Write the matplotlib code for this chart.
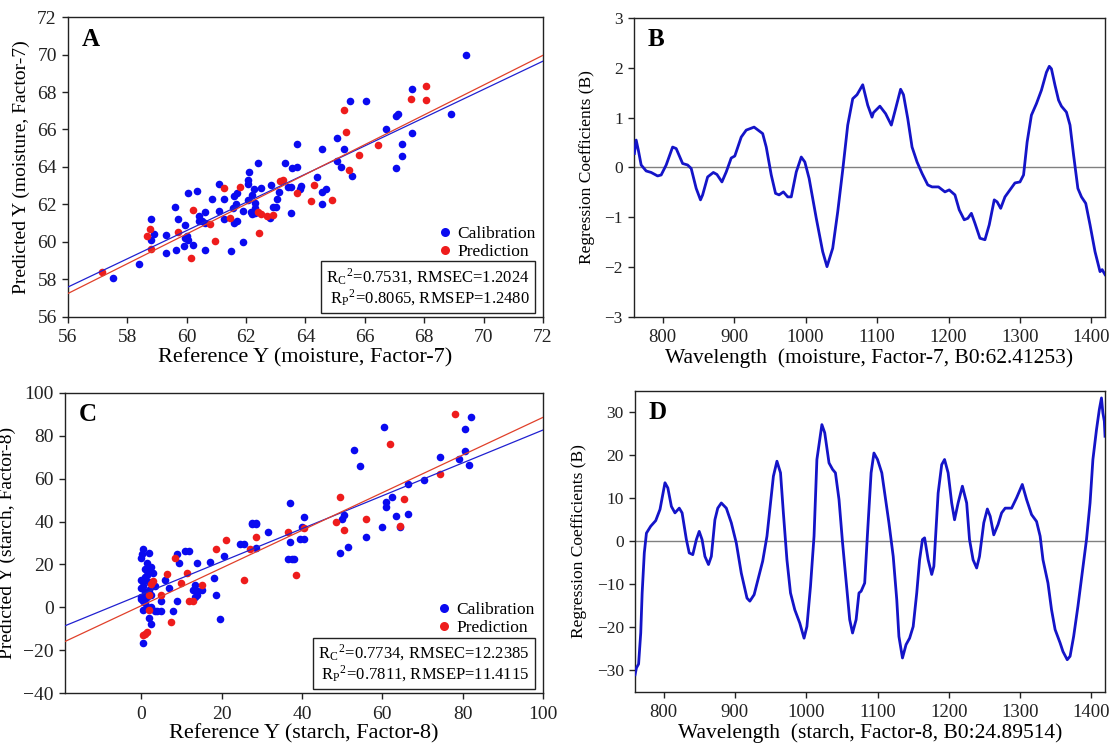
"""
PLS regression results: predicted vs reference and regression coefficients
"""
import numpy as np
import matplotlib.pyplot as plt
from matplotlib.lines import Line2D

plt.rcParams['font.family'] = ['Liberation Serif', 'DejaVu Serif']
plt.rcParams['mathtext.fontset'] = 'stix'


# DATA

# moisture: (reference, predicted)
moist_cal = np.array([
    [69.4, 70.0], [67.6, 68.15], [65.5, 67.5], [66.05, 67.5], [68.9, 66.85],
    [67.05, 66.7], [67.1, 66.8], [66.7, 66.0], [67.6, 65.8], [65.05, 65.55],
    [67.25, 65.25], [63.7, 65.25], [64.55, 64.95], [65.3, 64.95], [67.25, 64.6],
    [65.05, 64.3], [63.3, 64.2], [62.4, 64.2], [63.7, 64.0], [63.55, 63.95],
    [65.2, 64.0], [67.05, 63.95], [65.55, 63.5], [64.4, 63.45], [62.1, 63.75],
    [61.1, 63.1], [62.05, 63.3], [62.05, 63.1], [62.85, 63.05], [63.85, 63.0],
    [63.5, 62.95], [63.4, 62.95], [62.5, 62.9], [62.25, 62.8], [63.8, 62.8],
    [64.7, 62.8], [64.55, 62.65], [60.35, 62.7], [60.05, 62.6], [61.7, 62.6],
    [62.2, 62.5], [61.6, 62.45], [63.1, 62.65], [61.25, 62.3], [60.85, 62.3],
    [62.05, 62.25], [63.05, 62.3], [62.3, 62.1], [59.6, 61.85], [61.65, 62.0],
    [62.9, 61.85], [63.0, 61.85], [64.55, 62.0], [61.55, 61.8], [62.3, 61.55],
    [62.15, 61.6], [62.3, 61.8], [61.1, 61.65], [61.9, 61.65], [63.5, 61.55],
    [62.2, 61.5], [60.6, 61.6], [60.4, 61.4], [60.4, 61.1], [60.5, 61.1],
    [61.25, 61.2], [61.7, 61.1], [61.6, 61.0], [62.8, 61.3], [60.6, 61.0],
    [59.7, 61.25], [58.8, 61.2], [58.9, 60.4], [58.8, 60.1], [59.3, 60.35],
    [59.95, 60.9], [60.0, 60.3], [59.95, 60.2], [60.05, 60.1], [59.9, 59.8],
    [60.2, 59.85], [61.9, 60.0], [59.3, 59.4], [59.65, 59.55], [60.6, 59.55],
    [61.5, 59.5], [58.4, 58.8], [57.5, 58.1],
])
moist_val = np.array([
    [68.05, 68.3], [67.55, 67.6], [68.05, 67.55], [65.3, 67.05], [65.35, 65.85],
    [66.45, 65.15], [65.8, 64.65], [65.45, 63.85], [63.25, 63.3], [63.15, 63.25],
    [64.3, 63.05], [61.8, 62.95], [61.25, 62.9], [63.7, 62.6], [64.2, 62.2],
    [64.9, 62.25], [60.2, 61.7], [62.4, 61.6], [62.5, 61.5], [62.7, 61.4],
    [62.9, 61.45], [61.45, 61.3], [60.8, 60.95], [58.75, 60.7], [58.65, 60.3],
    [59.7, 60.55], [60.95, 60.05], [62.45, 60.5], [58.8, 59.6], [60.15, 59.15],
    [57.15, 58.4],
])
# fitted lines (slope, intercept)
moist_cal_fit = (0.753, 15.43)
moist_val_fit = (0.794, 12.79)
moist_stats = ['R$_\\mathregular{C}$$^\\mathregular{2}$=0.7531, RMSEC=1.2024',
               'R$_\\mathregular{P}$$^\\mathregular{2}$=0.8065, RMSEP=1.2480']

# starch: (reference, predicted)
starch_cal = np.array([
    [82, 88.5], [60.5, 84], [80.5, 83], [53, 73.5], [80.5, 73], [74.5, 70],
    [79, 69], [81.5, 66.5], [54.5, 66], [70.5, 59.5], [66.5, 57.5], [62.5, 51.5],
    [61, 49], [37, 48.5], [61, 47], [66.5, 43.5], [50.5, 43], [40.5, 42],
    [63.5, 42.5], [50, 41], [27.5, 39.5], [28.5, 39.5], [27.5, 39], [28.5, 39],
    [40, 37.5], [60, 37.5], [64.5, 37.5], [31.5, 35], [56, 33], [39.5, 32],
    [40.5, 32], [37, 30.5], [24.5, 29.5], [25.5, 29.5], [51.5, 28], [28.5, 27.5],
    [49.5, 25.5], [20.5, 24], [36.5, 22.5], [37.5, 22.5], [38, 22.5], [14, 20.5],
    [17, 21], [11, 26.5], [12, 26.5], [9, 25], [9.5, 20.5], [18, 13.5],
    [13.5, 10.5], [13, 8], [14, 7.5], [15, 8], [14, 6], [13.5, 5], [18.5, 6],
    [9, 3], [5, 3], [8, -1.5], [19.5, -5.5],
    [0.5, 27], [0.3, 25], [0, 23], [2, 25.5], [1.5, 20.5], [1, 18], [2.5, 19],
    [2, 17], [3, 16], [0, 13], [1, 13], [0.5, 10], [0, 9], [1, 7], [1.5, 5],
    [0, 5], [0.5, 3], [0, 4], [2, 8], [2.5, 6], [3.5, 10], [1, 2], [1.5, 0],
    [0.5, -1], [2.5, 0], [3.5, -1.5], [4, -1.5], [5, -1.5], [2, -5], [2.5, -7.5],
    [0.5, -16.5], [6, 13], [7, 9], [1, 14], [2, 12], [1.5, 15],
])
starch_val = np.array([
    [78, 90], [62, 76], [74.5, 62], [49.5, 51.5], [65.5, 50.5], [56, 41],
    [48.5, 40], [40.5, 37], [64.5, 38], [50.5, 36], [36.5, 35], [28.5, 33],
    [21, 31.5], [18.5, 27], [27, 27], [38.5, 15], [25.5, 13], [8.5, 23],
    [6.5, 15.5], [11.5, 16], [10, 11.5], [15, 10.5], [3, 12.5], [2.5, 11],
    [5, 6], [2, 6], [12, 3], [13, 3], [2, -1], [7.5, -7], [1.5, -11.5],
    [1, -12.5], [0.5, -13],
])
starch_cal_fit = (0.766, 6.0)
starch_val_fit = (0.877, 0.8)
starch_stats = ['R$_\\mathregular{C}$$^\\mathregular{2}$=0.7734, RMSEC=12.2385',
                'R$_\\mathregular{P}$$^\\mathregular{2}$=0.7811, RMSEP=11.4115']

# regression coefficients: (wavelength, B)
moist_coef = np.array([
    [760.5, 0.28], [763, 0.55], [766, 0.35], [770, 0.05], [777, -0.07],
    [784, -0.1], [793, -0.17], [798, -0.15], [805, 0.05], [814, 0.41],
    [819, 0.38], [828, 0.08], [835, 0.05], [840, -0.02], [847, -0.42],
    [853, -0.65], [856, -0.55], [863, -0.19], [871, -0.1], [876, -0.14],
    [883, -0.29], [889, -0.09], [896, 0.19], [901, 0.23], [910, 0.61],
    [917, 0.75], [928, 0.81], [940, 0.68], [945, 0.41], [952, -0.15],
    [958, -0.52], [963, -0.55], [969, -0.49], [975, -0.59], [980, -0.59],
    [987, -0.09], [994, 0.21], [999, 0.11], [1005, -0.22], [1015, -1.02],
    [1024, -1.69], [1030, -1.99], [1038, -1.62], [1045, -0.89], [1052, -0.05],
    [1059, 0.85], [1066, 1.38], [1072, 1.46], [1080, 1.66], [1087, 1.25],
    [1093, 1.01], [1095, 1.1], [1104, 1.23], [1112, 1.08], [1120, 0.85],
    [1126, 1.18], [1133, 1.57], [1137, 1.46], [1143, 0.98], [1149, 0.41],
    [1156, 0.11], [1163, -0.12], [1171, -0.35], [1177, -0.39], [1186, -0.39],
    [1195, -0.49], [1201, -0.45], [1209, -0.55], [1215, -0.85], [1222, -1.05],
    [1227, -1.02], [1232, -0.92], [1237, -1.12], [1244, -1.42], [1251, -1.45],
    [1257, -1.15], [1264, -0.65], [1268, -0.69], [1273, -0.82], [1279, -0.59],
    [1286, -0.45], [1293, -0.31], [1300, -0.29], [1305, -0.15], [1310, 0.51],
    [1316, 1.05], [1323, 1.28], [1330, 1.55], [1337, 1.91], [1341, 2.03],
    [1344, 1.98], [1349, 1.65], [1354, 1.35], [1358, 1.23], [1365, 1.11],
    [1370, 0.85], [1375, 0.25], [1381, -0.42], [1386, -0.59], [1392, -0.72],
    [1398, -1.15], [1405, -1.69], [1412, -2.09], [1415, -2.05], [1419, -2.15],
])
starch_coef = np.array([
    [760, -31], [762, -29.4], [765, -28.5], [768, -21.3], [770, -12],
    [773, -2.7], [776, 1.9], [782, 3.5], [789, 4.8], [795, 7.4], [802, 13.6],
    [806, 12.4], [811, 8.1], [816, 6.6], [822, 7.7], [826, 6.6], [832, 0.4],
    [836, -2.7], [841, -3.1], [846, 0.4], [850, 2.3], [854, 0.4], [858, -3.5],
    [863, -5.4], [867, -3.5], [872, 5.0], [876, 7.7], [881, 8.9], [888, 7.7],
    [895, 4.3], [902, -0.4], [909, -7.4], [917, -13.2], [921, -13.9],
    [927, -12.4], [933, -8.5], [939, -4.6], [945, 1.2], [950, 8.9], [954, 15.1],
    [959, 18.6], [964, 15.9], [968, 6.6], [973, -4.3], [978, -12.0],
    [984, -15.9], [991, -19], [997, -22.5], [1001, -19.8], [1006, -10.5],
    [1011, 1.2], [1015, 19], [1022, 27.1], [1026, 25.2], [1032, 18.2],
    [1037, 16.7], [1041, 15.9], [1046, 9.7], [1051, -0.4], [1057, -11.2],
    [1061, -18.2], [1065, -21.3], [1070, -18.2], [1074, -12], [1077, -11.6],
    [1082, -9.7], [1086, 1.9], [1091, 15.9], [1095, 20.5], [1100, 19],
    [1106, 15.9], [1110, 11.2], [1116, 4.3], [1122, -3.5], [1127, -13.6],
    [1130, -22.1], [1135, -27.1], [1140, -24], [1145, -22.5], [1150, -19.8],
    [1155, -12], [1159, -4.3], [1163, 0.4], [1166, 0.8], [1171, -4.3],
    [1176, -7.7], [1179, -5.8], [1185, 11.2], [1190, 17.8], [1194, 19.0],
    [1199, 15.9], [1204, 8.9], [1208, 5.0], [1213, 8.9], [1219, 12.8],
    [1225, 8.9], [1229, 0.4], [1234, -4.3], [1239, -6.2], [1243, -3.5],
    [1249, 4.3], [1254, 7.5], [1258, 5.8], [1263, 1.5], [1269, 3.9],
    [1274, 6.6], [1279, 7.7], [1288, 7.7], [1295, 10.1], [1303, 13.2],
    [1309, 9.7], [1316, 6.2], [1323, 4.6], [1328, 1.2], [1332, -4.3],
    [1339, -9.7], [1344, -15.9], [1349, -20.5], [1356, -23.6], [1360, -25.6],
    [1366, -27.5], [1370, -26.7], [1375, -22.1], [1381, -15.1], [1387, -7.4],
    [1393, 0.4], [1398, 8.9], [1402, 19], [1407, 25.9], [1411, 30.6],
    [1414, 33.3], [1416, 29.8], [1418, 27.9], [1419, 24.4],
])

BLUE = '#0a0af0'
RED = '#ee1c1c'
LINE = '#1414c8'


# PLOTTING

fig = plt.figure(figsize=(11.18, 7.46), dpi=100)
axA = fig.add_axes([0.0608, 0.5751, 0.4249, 0.4021])
axB = fig.add_axes([0.5671, 0.5751, 0.4213, 0.4008])
axC = fig.add_axes([0.0581, 0.0706, 0.4275, 0.4030])
axD = fig.add_axes([0.5680, 0.0724, 0.4204, 0.4040])


def style(ax, tick_size_x, tick_size_y):
    for s in ax.spines.values():
        s.set_color('#222222')
        s.set_linewidth(1.0)
    ax.tick_params(direction='out', length=4, width=1, top=False, right=False,
                   colors='#222222')
    ax.tick_params(axis='x', labelsize=tick_size_x, pad=5)
    ax.tick_params(axis='y', labelsize=tick_size_y, pad=4)


def scatter_panel(ax, cal, val, cal_fit, val_fit, stats, xlim, ylim,
                  xticks, yticks, xlabel, ylabel, letter):
    ax.scatter(cal[:, 0], cal[:, 1], s=30, color=BLUE, zorder=3, linewidths=0)
    ax.scatter(val[:, 0], val[:, 1], s=30, color=RED, zorder=3, linewidths=0)
    xs = np.array(xlim)
    ax.plot(xs, cal_fit[0] * xs + cal_fit[1], color='#2020d0', lw=0.9, zorder=4)
    ax.plot(xs, val_fit[0] * xs + val_fit[1], color='#e0402a', lw=0.9, zorder=4)
    ax.set_xlim(xlim)
    ax.set_ylim(ylim)
    ax.set_xticks(xticks)
    ax.set_yticks(yticks)
    ax.set_xlabel(xlabel, fontsize=16, labelpad=1)
    ax.set_ylabel(ylabel, fontsize=14, labelpad=5)
    style(ax, 14, 14)
    handles = [Line2D([], [], ls='none', marker='o', ms=6.5, color=BLUE, mec='none'),
               Line2D([], [], ls='none', marker='o', ms=6.5, color=RED, mec='none')]
    ax.legend(handles, ['Calibration', 'Prediction'], loc='upper left',
              bbox_to_anchor=(0.783, 0.303), frameon=False, fontsize=12.5,
              handlelength=0.6, handletextpad=0.4, labelspacing=0.1,
              borderaxespad=0, borderpad=0)
    ax.text(0.972, 0.03, '\n'.join(stats), transform=ax.transAxes,
            ha='right', va='bottom', fontsize=12, linespacing=1.05,
            bbox=dict(boxstyle='square,pad=0.3', fc='white', ec='#222222', lw=1))
    ax.text(0.028, 0.965, letter, transform=ax.transAxes, ha='left', va='top',
            fontsize=18, fontweight='bold')


def coef_panel(ax, coef, ylim, yticks, xlabel, letter):
    ax.axhline(0, color='#808080', lw=1, zorder=1)
    ax.plot(coef[:, 0], coef[:, 1], color=LINE, lw=2, zorder=3)
    ax.set_xlim(760, 1419)
    ax.set_ylim(ylim)
    ax.set_xticks([800, 900, 1000, 1100, 1200, 1300, 1400])
    ax.set_yticks(yticks)
    ax.set_xlabel(xlabel, fontsize=15.5, labelpad=1)
    ax.set_ylabel('Regression Coefficients (B)', fontsize=12.5, labelpad=7)
    style(ax, 13.5, 12.5)
    ax.text(0.028, 0.965, letter, transform=ax.transAxes, ha='left', va='top',
            fontsize=18, fontweight='bold')


scatter_panel(axA, moist_cal, moist_val, moist_cal_fit, moist_val_fit, moist_stats,
              (56, 72), (56, 72), range(56, 73, 2), range(56, 73, 2),
              'Reference Y (moisture, Factor-7)', 'Predicted Y (moisture, Factor-7)', 'A')
scatter_panel(axC, starch_cal, starch_val, starch_cal_fit, starch_val_fit, starch_stats,
              (-19, 100), (-40, 100), range(0, 101, 20), range(-40, 101, 20),
              'Reference Y (starch, Factor-8)', 'Predicted Y (starch, Factor-8)', 'C')
coef_panel(axB, moist_coef, (-3, 3), range(-3, 4),
           'Wavelength  (moisture, Factor-7, B0:62.41253)', 'B')
coef_panel(axD, starch_coef, (-35, 35), range(-30, 31, 10),
           'Wavelength  (starch, Factor-8, B0:24.89514)', 'D')

fig.savefig('out.png', dpi=100)
